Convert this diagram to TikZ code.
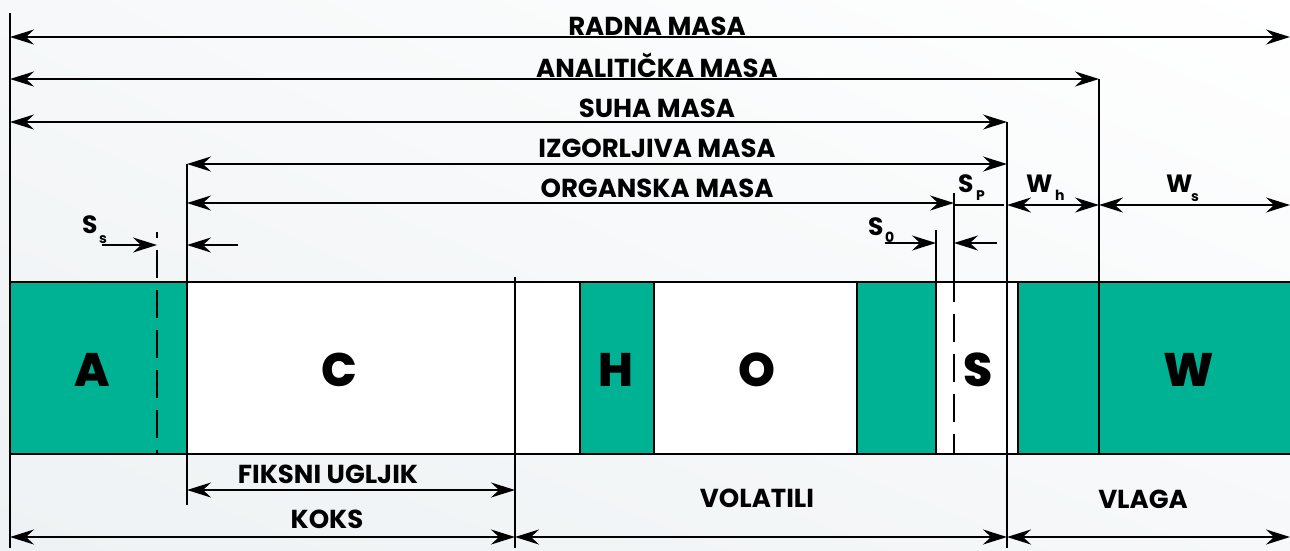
\documentclass[tikz,border=0pt]{standalone}
\usepackage{fontspec}
\setmainfont{Poppins}
\IfFontExistsTF{Poppins ExtraBold}
  {\newfontfamily\heavyfont{Poppins ExtraBold}}
  {\newcommand\heavyfont{\bfseries}}
\usetikzlibrary{arrows.meta,shadings}
\definecolor{fuelgreen}{RGB}{0,178,148}
\definecolor{bglow}{RGB}{238,242,244}
\definecolor{bgmid}{RGB}{246,248,249}
\tikzset{
  dimtip/.tip={Stealth[length=24pt,width=15pt,inset=8pt]},
  heavy/.style={line width=2pt},
  dimboth/.style={line width=2pt, dimtip-dimtip},
  dimend/.style={line width=2pt, -dimtip},
  cutline/.style={line width=1.6pt, dash pattern=on 28pt off 12pt},
  masstxt/.style={font=\fontsize{26}{26}\selectfont\bfseries, anchor=base, inner sep=0pt},
  symtxt/.style={font=\fontsize{25}{25}\selectfont\bfseries, anchor=base west, inner sep=0pt},
  subtxt/.style={font=\fontsize{14}{14}\selectfont\bfseries, anchor=base west, inner sep=0pt},
  elemtxt/.style={font=\fontsize{47}{47}\selectfont\heavyfont, anchor=base, inner sep=0pt},
}
\begin{document}
\begin{tikzpicture}[x=1pt,y=-1pt]
\useasboundingbox (0,0) rectangle (1290,550);
\shade[upper left=bgmid, upper right=white, lower left=bglow, lower right=bgmid]
  (0,0) rectangle (1290,550);

% ---------- the composition bar ----------
\fill[fuelgreen] (10,282) rectangle (187,454);
\fill[white] (187,282) rectangle (580,454);
\fill[fuelgreen] (580,282) rectangle (654,454);
\fill[white] (654,282) rectangle (857,454);
\fill[fuelgreen] (857,282) rectangle (936,454);
\fill[white] (936,282) rectangle (1018,454);
\fill[fuelgreen] (1018,282) rectangle (1290,454);

\coordinate (barTL) at (10,282);  \coordinate (barTR) at (1290,282);
\coordinate (barBL) at (10,454);  \coordinate (barBR) at (1290,454);
\draw[heavy] (barTL) -- (barTR);
\draw[heavy] (barBL) -- (barBR);

% segment borders inside the bar
\foreach \x in {580,654,857,1018}
  \draw[heavy] (\x,282) -- (\x,454);

% element letters
\node[elemtxt] (elA) at (92,386)   {A};
\node[elemtxt] (elC) at (339,386)  {C};
\node[elemtxt] (elH) at (616,386)  {H};
\node[elemtxt] (elO) at (757,386)  {O};
\node[elemtxt] (elS) at (978,386)  {S};
\node[elemtxt] (elW) at (1189,386) {W};

% ---------- extension lines ----------
\coordinate (xA0) at (10,13);    \coordinate (xA1) at (10,548);
\coordinate (xC0) at (187,164);  \coordinate (xC1) at (187,505);
\coordinate (xK0) at (515,277);  \coordinate (xK1) at (515,548);
\coordinate (xO0) at (936,230);  \coordinate (xO1) at (936,454);
\coordinate (xP0) at (954,193);  \coordinate (xP1) at (954,282);
\coordinate (xP2) at (954,454);
\coordinate (xS0) at (157,232);  \coordinate (xS1) at (157,454);
\coordinate (xD0) at (1007,122); \coordinate (xD1) at (1007,548);
\coordinate (xN0) at (1099,79);  \coordinate (xN1) at (1099,454);
\draw[heavy] (xA0) -- (xA1);
\draw[heavy] (xC0) -- (xC1);
\draw[heavy] (xK0) -- (xK1);
\draw[heavy] (xO0) -- (xO1);
\draw[heavy] (xP0) -- (xP1);
\draw[cutline, dash phase=8pt] (xP1) -- (xP2);
\draw[cutline, dash phase=22pt] (xS0) -- (xS1);
\draw[heavy] (xD0) -- (xD1);
\draw[heavy] (xN0) -- (xN1);

% ---------- mass dimensions above the bar ----------
\coordinate (radL) at (10,37);    \coordinate (radR) at (1290,37);
\coordinate (anaL) at (10,79);    \coordinate (anaR) at (1099,79);
\coordinate (suhL) at (10,122);   \coordinate (suhR) at (1007,122);
\coordinate (izgL) at (187,164);  \coordinate (izgR) at (1007,164);
\coordinate (orgL) at (187,203);  \coordinate (orgR) at (954,203);
\draw[dimboth] (radL) -- (radR);
\draw[dimboth] (anaL) -- (anaR);
\draw[dimboth] (suhL) -- (suhR);
\draw[dimboth] (izgL) -- (izgR);
\draw[dimboth] (orgL) -- (orgR);
\node[masstxt] (radT) at (657,35)  {RADNA MASA};
\node[masstxt] (anaT) at (657,77)  {ANALITIČKA MASA};
\node[masstxt] (suhT) at (657,117) {SUHA MASA};
\node[masstxt] (izgT) at (657,157) {IZGORLJIVA MASA};
\node[masstxt] (orgT) at (657,197) {ORGANSKA MASA};

% ---------- moisture and pyritic sulphur ----------
\coordinate (spL) at (954,205);   \coordinate (spR) at (1004,205);
\coordinate (whL) at (1007,205);  \coordinate (whR) at (1099,205);
\coordinate (wsL) at (1099,205);  \coordinate (wsR) at (1290,205);
\draw[heavy] (spL) -- (spR);
\draw[dimboth] (whL) -- (whR);
\draw[dimboth] (wsL) -- (wsR);
\node[symtxt] (spS) at (958,192)  {S};
\node[subtxt] (spI) at (976,200)  {P};
\node[symtxt] (whS) at (1026,192) {W};
\node[subtxt] (whI) at (1055,200) {h};
\node[symtxt] (wsS) at (1166,192) {W};
\node[subtxt] (wsI) at (1191,201) {s};

% ---------- sulphate and organic sulphur ----------
\coordinate (ssA) at (102,245);   \coordinate (ssB) at (157,245);
\coordinate (scA) at (238,245);   \coordinate (scB) at (187,245);
\coordinate (soA) at (885,243);   \coordinate (soB) at (936,243);
\coordinate (sqA) at (997,243);   \coordinate (sqB) at (954,243);
\draw[dimend] (ssA) -- (ssB);
\draw[dimend] (scA) -- (scB);
\draw[dimend] (soA) -- (soB);
\draw[dimend] (sqA) -- (sqB);
\node[symtxt] (ssS) at (82,233)  {S};
\node[subtxt] (ssI) at (99,243)  {s};
\node[symtxt] (soS) at (868,235) {S};
\node[subtxt] (soI) at (885,242) {0};

% ---------- proximate analysis below the bar ----------
\coordinate (fiL) at (187,490);   \coordinate (fiR) at (515,490);
\coordinate (koL) at (10,537);    \coordinate (koR) at (515,537);
\coordinate (voL) at (515,537);   \coordinate (voR) at (1007,537);
\coordinate (vlL) at (1007,537);  \coordinate (vlR) at (1290,537);
\draw[dimboth] (fiL) -- (fiR);
\draw[dimboth] (koL) -- (koR);
\draw[dimboth] (voL) -- (voR);
\draw[dimboth] (vlL) -- (vlR);
\node[masstxt] (fiT) at (328,483)  {FIKSNI UGLJIK};
\node[masstxt] (koT) at (327,528)  {KOKS};
\node[masstxt] (voT) at (757,507)  {VOLATILI};
\node[masstxt] (vlT) at (1143,508) {VLAGA};
\end{tikzpicture}
\end{document}
